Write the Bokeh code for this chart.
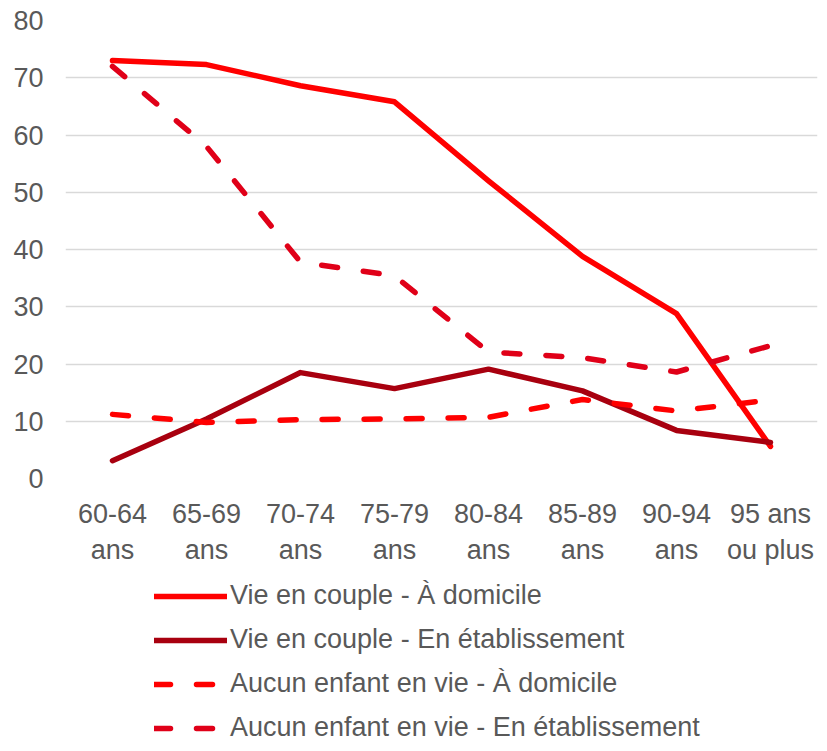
from bokeh.plotting import figure
from bokeh.layouts import column
from bokeh.models import Legend, LegendItem, Range1d, FactorRange, SingleIntervalTicker
from bokeh.embed import file_html
from bokeh.resources import INLINE

categories = ["60-64\nans", "65-69\nans", "70-74\nans", "75-79\nans",
              "80-84\nans", "85-89\nans", "90-94\nans", "95 ans\nou plus"]

couple_domicile = [73.0, 72.3, 68.6, 65.8, 52.0, 38.8, 28.8, 5.6]
couple_etab = [3.1, 10.4, 18.5, 15.7, 19.1, 15.3, 8.4, 6.3]
sans_enfant_domicile = [11.2, 9.8, 10.3, 10.4, 10.7, 13.8, 11.8, 13.7]
sans_enfant_etab = [72.0, 58.0, 37.8, 35.4, 22.1, 21.1, 18.6, 23.2]

labels = ["Vie en couple - À domicile",
          "Vie en couple - En établissement",
          "Aucun enfant en vie - À domicile",
          "Aucun enfant en vie - En établissement"]
colors = ["#FF0000", "#A8000F", "#FF0000", "#E00018"]
dashes = ["solid", "solid", "16 26", "16 26"]
series = [couple_domicile, couple_etab, sans_enfant_domicile, sans_enfant_etab]

FONT = "Liberation Sans"
GREY = "#595959"

p = figure(width=819, height=576, x_range=FactorRange(*categories),
           y_range=Range1d(0, 80), output_backend="svg", toolbar_location=None,
           min_border_left=65, min_border_right=2, min_border_top=20,
           min_border_bottom=98)
p.outline_line_color = None

style = dict(line_width=5.5, line_cap="round", line_join="round")
for vals, col, dash in zip(series, colors, dashes):
    p.line(categories, vals, line_color=col, line_dash=dash, **style)

p.xgrid.grid_line_color = None
p.ygrid.grid_line_color = "#D9D9D9"
p.ygrid.grid_line_width = 1.5
p.yaxis.ticker = SingleIntervalTicker(interval=10)
for ax in (p.xaxis[0], p.yaxis[0]):
    ax.axis_line_color = None
    ax.major_tick_line_color = None
    ax.minor_tick_line_color = None
    ax.major_label_text_color = GREY
    ax.major_label_text_font = FONT
p.yaxis.major_tick_out = 0
p.yaxis.major_tick_in = 0
p.yaxis.major_label_text_font_size = "27px"
p.yaxis.major_label_standoff = 18
p.xaxis.major_label_text_font_size = "27px"
p.xaxis.major_label_standoff = 14

# legend panel (separate figure below the chart); its lines lie outside its visible range
lg = figure(width=819, height=167, output_backend="svg", toolbar_location=None,
            x_axis_type=None, y_axis_type=None,
            min_border=0, x_range=Range1d(100, 101), y_range=Range1d(100, 101))
lg.grid.visible = False
lg.outline_line_color = None
items = []
for lab, vals, col, dash in zip(labels, series, colors, dashes):
    r = lg.line(list(range(len(vals))), vals, line_color=col, line_dash=dash, **style)
    items.append(LegendItem(label=lab, renderers=[r]))

legend = Legend(items=items, location=(89, 0), orientation="vertical",
                glyph_width=73, glyph_height=26, label_height=26, label_standoff=3,
                spacing=13, padding=0, margin=0,
                label_text_font=FONT, label_text_font_size="27px",
                label_text_color=GREY, border_line_color=None,
                background_fill_alpha=0)
lg.add_layout(legend, "center")

layout = column(p, lg, spacing=0)
open("out.html", "w").write(file_html(layout, INLINE))
